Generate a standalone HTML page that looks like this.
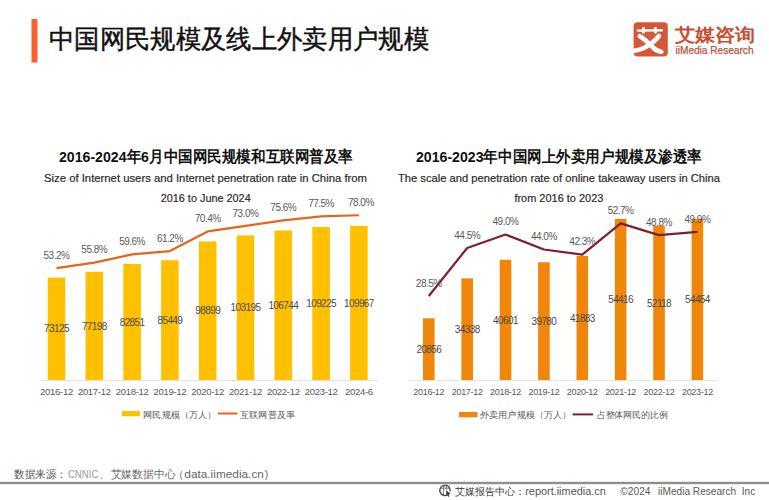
<!DOCTYPE html>
<html><head><meta charset="utf-8"><style>
html,body{margin:0;padding:0;background:#fff;width:769px;height:500px;overflow:hidden}
svg{display:block;font-family:"Liberation Sans", sans-serif}
</style></head><body>
<svg width="769" height="500" viewBox="0 0 769 500" font-family='"Liberation Sans", sans-serif'>
<rect x="31.5" y="19" width="6" height="43.5" fill="#F8602F"/>
<text x="49.0" y="48.0" font-size="25.5" fill="#111" textLength="380" lengthAdjust="spacingAndGlyphs" stroke="#111" stroke-width="0.45">中国网民规模及线上外卖用户规模</text>
<rect x="633.6" y="22.2" width="34.2" height="34.2" rx="4" fill="#D5573A"/>
<text x="674.8" y="41.0" font-size="17.5" fill="#C64E31" font-weight="bold" textLength="80" lengthAdjust="spacingAndGlyphs">艾媒咨询</text>
<g fill="#fff"><path d="M636.8,29.4 L662.8,29.0 L662.8,31.4 L636.8,31.8 Z"/><rect x="642.1" y="27.2" width="2.7" height="6.2"/><rect x="654.1" y="27.2" width="2.7" height="6.2"/></g>
<g fill="none" stroke="#fff" stroke-linecap="round"><path d="M659,36 C655,41 649.5,45.5 643,48.3 C640,49.5 637,50.3 634,50.8" stroke-width="4.6"/><path d="M639.8,36.2 C645,39 649,43.5 653,47.5 C655.5,50 658,51.3 661.3,51.7" stroke-width="4.6"/></g>
<text x="675.5" y="53.8" font-size="10.5" fill="#B5563D" textLength="78" lengthAdjust="spacingAndGlyphs" stroke="#B5563D" stroke-width="0.25">iiMedia Research</text>
<text x="59.0" y="162.3" font-size="15.5" fill="#111" font-weight="bold" textLength="294" lengthAdjust="spacingAndGlyphs">2016-2024年6月中国网民规模和互联网普及率</text>
<text x="44.0" y="182.2" font-size="11.5" fill="#2a2a2a" textLength="323" lengthAdjust="spacingAndGlyphs" stroke="#2a2a2a" stroke-width="0.2">Size of Internet users and Internet penetration rate in China from</text>
<text x="160.7" y="201.8" font-size="11.5" fill="#2a2a2a" textLength="90" lengthAdjust="spacingAndGlyphs" stroke="#2a2a2a" stroke-width="0.2">2016 to June 2024</text>
<text x="416.0" y="162.3" font-size="15.5" fill="#111" font-weight="bold" textLength="286" lengthAdjust="spacingAndGlyphs">2016-2023年中国网上外卖用户规模及渗透率</text>
<text x="398.0" y="182.2" font-size="11.5" fill="#2a2a2a" textLength="322" lengthAdjust="spacingAndGlyphs" stroke="#2a2a2a" stroke-width="0.2">The scale and penetration rate of online takeaway users in China</text>
<text x="514.4" y="201.8" font-size="11.5" fill="#2a2a2a" textLength="89" lengthAdjust="spacingAndGlyphs" stroke="#2a2a2a" stroke-width="0.2">from 2016 to 2023</text>
<rect x="39.5" y="380.0" width="338.5" height="1" fill="#E3E3EA"/>
<rect x="47.70" y="277.55" width="17.6" height="102.45" fill="#FFC000"/>
<text x="56.5" y="332.4" font-size="10" fill="#4a4a4a" text-anchor="middle" letter-spacing="-0.6">73125</text>
<text x="56.5" y="395.0" font-size="9.5" fill="#595959" text-anchor="middle" letter-spacing="-0.3">2016-12</text>
<rect x="85.50" y="271.85" width="17.6" height="108.15" fill="#FFC000"/>
<text x="94.3" y="329.5" font-size="10" fill="#4a4a4a" text-anchor="middle" letter-spacing="-0.6">77198</text>
<text x="94.3" y="395.0" font-size="9.5" fill="#595959" text-anchor="middle" letter-spacing="-0.3">2017-12</text>
<rect x="123.30" y="263.93" width="17.6" height="116.07" fill="#FFC000"/>
<text x="132.1" y="325.6" font-size="10" fill="#4a4a4a" text-anchor="middle" letter-spacing="-0.6">82851</text>
<text x="132.1" y="395.0" font-size="9.5" fill="#595959" text-anchor="middle" letter-spacing="-0.3">2018-12</text>
<rect x="161.10" y="260.29" width="17.6" height="119.71" fill="#FFC000"/>
<text x="169.9" y="323.7" font-size="10" fill="#4a4a4a" text-anchor="middle" letter-spacing="-0.6">85449</text>
<text x="169.9" y="395.0" font-size="9.5" fill="#595959" text-anchor="middle" letter-spacing="-0.3">2019-12</text>
<rect x="198.90" y="241.44" width="17.6" height="138.56" fill="#FFC000"/>
<text x="207.7" y="314.3" font-size="10" fill="#4a4a4a" text-anchor="middle" letter-spacing="-0.6">98899</text>
<text x="207.7" y="395.0" font-size="9.5" fill="#595959" text-anchor="middle" letter-spacing="-0.3">2020-12</text>
<rect x="236.70" y="235.42" width="17.6" height="144.58" fill="#FFC000"/>
<text x="245.5" y="311.3" font-size="10" fill="#4a4a4a" text-anchor="middle" letter-spacing="-0.6">103195</text>
<text x="245.5" y="395.0" font-size="9.5" fill="#595959" text-anchor="middle" letter-spacing="-0.3">2021-12</text>
<rect x="274.50" y="230.45" width="17.6" height="149.55" fill="#FFC000"/>
<text x="283.3" y="308.8" font-size="10" fill="#4a4a4a" text-anchor="middle" letter-spacing="-0.6">106744</text>
<text x="283.3" y="395.0" font-size="9.5" fill="#595959" text-anchor="middle" letter-spacing="-0.3">2022-12</text>
<rect x="312.30" y="226.98" width="17.6" height="153.02" fill="#FFC000"/>
<text x="321.1" y="307.1" font-size="10" fill="#4a4a4a" text-anchor="middle" letter-spacing="-0.6">109225</text>
<text x="321.1" y="395.0" font-size="9.5" fill="#595959" text-anchor="middle" letter-spacing="-0.3">2023-12</text>
<rect x="350.10" y="225.94" width="17.6" height="154.06" fill="#FFC000"/>
<text x="358.9" y="306.6" font-size="10" fill="#4a4a4a" text-anchor="middle" letter-spacing="-0.6">109967</text>
<text x="358.9" y="395.0" font-size="9.5" fill="#595959" text-anchor="middle" letter-spacing="-0.3">2024-6</text>
<polyline points="56.50,268.08 94.30,262.55 132.10,254.45 169.90,251.04 207.70,231.45 245.50,225.91 283.30,220.37 321.10,216.32 358.90,215.26" fill="none" stroke="#E4661E" stroke-width="2.2" stroke-linejoin="round"/>
<text x="56.5" y="258.9" font-size="10" fill="#595959" text-anchor="middle" letter-spacing="-0.5">53.2%</text>
<text x="94.3" y="253.3" font-size="10" fill="#595959" text-anchor="middle" letter-spacing="-0.5">55.8%</text>
<text x="132.1" y="245.3" font-size="10" fill="#595959" text-anchor="middle" letter-spacing="-0.5">59.6%</text>
<text x="169.9" y="241.8" font-size="10" fill="#595959" text-anchor="middle" letter-spacing="-0.5">61.2%</text>
<text x="207.7" y="222.2" font-size="10" fill="#595959" text-anchor="middle" letter-spacing="-0.5">70.4%</text>
<text x="245.5" y="216.7" font-size="10" fill="#595959" text-anchor="middle" letter-spacing="-0.5">73.0%</text>
<text x="283.3" y="211.2" font-size="10" fill="#595959" text-anchor="middle" letter-spacing="-0.5">75.6%</text>
<text x="321.1" y="207.1" font-size="10" fill="#595959" text-anchor="middle" letter-spacing="-0.5">77.5%</text>
<text x="360.9" y="206.1" font-size="10" fill="#595959" text-anchor="middle" letter-spacing="-0.5">78.0%</text>
<rect x="409" y="380.0" width="307" height="1" fill="#E3E3EA"/>
<rect x="423.00" y="318.27" width="11.6" height="61.73" fill="#F0860A"/>
<text x="428.8" y="352.7" font-size="10" fill="#4a4a4a" text-anchor="middle" letter-spacing="-0.6">20856</text>
<text x="428.8" y="395.0" font-size="9" fill="#595959" text-anchor="middle" letter-spacing="-0.3">2016-12</text>
<rect x="461.37" y="278.36" width="11.6" height="101.64" fill="#F0860A"/>
<text x="467.2" y="332.8" font-size="10" fill="#4a4a4a" text-anchor="middle" letter-spacing="-0.6">34338</text>
<text x="467.2" y="395.0" font-size="9" fill="#595959" text-anchor="middle" letter-spacing="-0.3">2017-12</text>
<rect x="499.74" y="259.82" width="11.6" height="120.18" fill="#F0860A"/>
<text x="505.5" y="323.5" font-size="10" fill="#4a4a4a" text-anchor="middle" letter-spacing="-0.6">40601</text>
<text x="505.5" y="395.0" font-size="9" fill="#595959" text-anchor="middle" letter-spacing="-0.3">2018-12</text>
<rect x="538.11" y="262.25" width="11.6" height="117.75" fill="#F0860A"/>
<text x="543.9" y="324.7" font-size="10" fill="#4a4a4a" text-anchor="middle" letter-spacing="-0.6">39780</text>
<text x="543.9" y="395.0" font-size="9" fill="#595959" text-anchor="middle" letter-spacing="-0.3">2019-12</text>
<rect x="576.48" y="256.03" width="11.6" height="123.97" fill="#F0860A"/>
<text x="582.3" y="321.6" font-size="10" fill="#4a4a4a" text-anchor="middle" letter-spacing="-0.6">41883</text>
<text x="582.3" y="395.0" font-size="9" fill="#595959" text-anchor="middle" letter-spacing="-0.3">2020-12</text>
<rect x="614.85" y="218.93" width="11.6" height="161.07" fill="#F0860A"/>
<text x="620.6" y="303.1" font-size="10" fill="#4a4a4a" text-anchor="middle" letter-spacing="-0.6">54416</text>
<text x="620.6" y="395.0" font-size="9" fill="#595959" text-anchor="middle" letter-spacing="-0.3">2021-12</text>
<rect x="653.22" y="225.73" width="11.6" height="154.27" fill="#F0860A"/>
<text x="659.0" y="306.5" font-size="10" fill="#4a4a4a" text-anchor="middle" letter-spacing="-0.6">52118</text>
<text x="659.0" y="395.0" font-size="9" fill="#595959" text-anchor="middle" letter-spacing="-0.3">2022-12</text>
<rect x="691.59" y="218.82" width="11.6" height="161.18" fill="#F0860A"/>
<text x="697.4" y="303.0" font-size="10" fill="#4a4a4a" text-anchor="middle" letter-spacing="-0.6">54454</text>
<text x="697.4" y="395.0" font-size="9" fill="#595959" text-anchor="middle" letter-spacing="-0.3">2023-12</text>
<polyline points="428.80,296.00 467.17,248.00 505.54,234.50 543.91,249.50 582.28,254.60 620.65,223.40 659.02,235.10 697.39,231.80" fill="none" stroke="#7E1E34" stroke-width="2.2" stroke-linejoin="round"/>
<text x="428.8" y="286.8" font-size="10" fill="#595959" text-anchor="middle" letter-spacing="-0.5">28.5%</text>
<text x="467.2" y="238.8" font-size="10" fill="#595959" text-anchor="middle" letter-spacing="-0.5">44.5%</text>
<text x="505.5" y="225.3" font-size="10" fill="#595959" text-anchor="middle" letter-spacing="-0.5">49.0%</text>
<text x="543.9" y="240.3" font-size="10" fill="#595959" text-anchor="middle" letter-spacing="-0.5">44.0%</text>
<text x="582.3" y="245.4" font-size="10" fill="#595959" text-anchor="middle" letter-spacing="-0.5">42.3%</text>
<text x="620.6" y="214.2" font-size="10" fill="#595959" text-anchor="middle" letter-spacing="-0.5">52.7%</text>
<text x="659.0" y="225.9" font-size="10" fill="#595959" text-anchor="middle" letter-spacing="-0.5">48.8%</text>
<text x="697.4" y="222.6" font-size="10" fill="#595959" text-anchor="middle" letter-spacing="-0.5">49.9%</text>
<rect x="122" y="411" width="18" height="5.2" fill="#FFC000"/>
<text x="143.3" y="417.5" font-size="9" fill="#595959" textLength="73" lengthAdjust="spacingAndGlyphs">网民规模（万人）</text>
<rect x="218" y="412.5" width="19.5" height="2" fill="#E4661E"/>
<text x="240.0" y="417.5" font-size="9" fill="#595959" textLength="55" lengthAdjust="spacingAndGlyphs">互联网普及率</text>
<rect x="459" y="412" width="18.5" height="5.3" fill="#F0860A"/>
<text x="480.0" y="418.0" font-size="9" fill="#595959" textLength="91.5" lengthAdjust="spacingAndGlyphs">外卖用户规模（万人）</text>
<rect x="572.6" y="413.4" width="20.4" height="2" fill="#7E1E34"/>
<text x="596.6" y="418.0" font-size="9" fill="#595959" textLength="71.5" lengthAdjust="spacingAndGlyphs">占整体网民的比例</text>
<rect x="0" y="481.8" width="769" height="2.4" fill="#8F8F8F"/>
<text x="14.0" y="477.5" font-size="10.5" fill="#555" textLength="52.5" lengthAdjust="spacingAndGlyphs">数据来源：</text>
<text x="67.9" y="477.7" font-size="10.8" fill="#9a9a9a" textLength="30.5" lengthAdjust="spacingAndGlyphs">CNNIC</text>
<text x="99.0" y="477.5" font-size="10.5" fill="#777">、</text>
<text x="110.5" y="477.5" font-size="10.5" fill="#666" textLength="65" lengthAdjust="spacingAndGlyphs">艾媒数据中心</text>
<text x="173.0" y="477.5" font-size="10.5" fill="#666">（</text>
<text x="184.3" y="477.5" font-size="10.5" fill="#666" textLength="79.6" lengthAdjust="spacingAndGlyphs">data.iimedia.cn</text>
<text x="264.8" y="477.5" font-size="10.5" fill="#666">)</text>
<g fill="none" stroke="#4a4a4a" stroke-width="1.4"><path d="M447.98,494.56 A5.2,5.2 0 1 1 450.02,491.65"/><path d="M440.5,488.2H449.5M443.4,485.4V495.2M446.2,485.4V489.5" stroke-width="0.9" stroke="#6a6a6a"/></g><path d="M446.2,490.3 L450.8,494 L448.6,494.4 L449.6,496.6 L448.6,497 L447.6,494.9 L446.2,496.3 Z" fill="#3a3a3a"/>
<text x="455.3" y="495.0" font-size="10" fill="#3a3a3a" textLength="70" lengthAdjust="spacingAndGlyphs">艾媒报告中心：</text>
<text x="525.2" y="495.0" font-size="10" fill="#555" textLength="80.6" lengthAdjust="spacingAndGlyphs">report.iimedia.cn</text>
<text x="620.3" y="495.0" font-size="10" fill="#595959" textLength="30.2" lengthAdjust="spacingAndGlyphs">©2024</text>
<text x="658.0" y="495.0" font-size="10" fill="#595959" textLength="97.3" lengthAdjust="spacingAndGlyphs" xml:space="preserve">iiMedia Research  Inc</text>
</svg>
</body></html>
